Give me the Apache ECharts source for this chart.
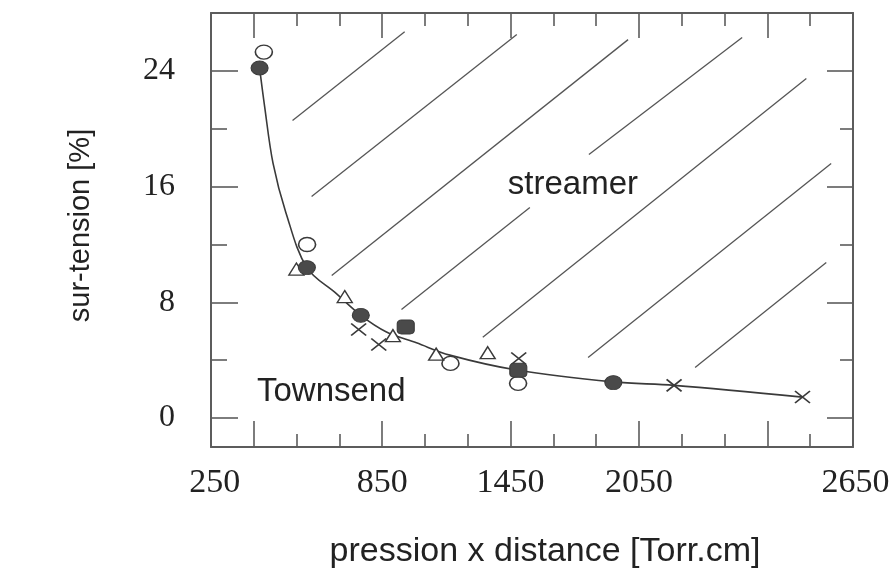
<!DOCTYPE html>
<html>
<head>
<meta charset="utf-8">
<script src="https://cdn.jsdelivr.net/npm/echarts@6/dist/echarts.min.js"></script>
<style>
html,body{margin:0;padding:0;background:#fff;}
#chart{width:894px;height:568px;}
</style>
</head>
<body>
<div id="chart"></div>
<script>
// ---- axis ranges and ticks ----
const xMin = 50, xMax = 3050;
const yMin = -2, yMax = 28;
const xMajor = [250, 850, 1450, 2050, 2650];
const xMinor = [450, 650, 1050, 1250, 1650, 1850, 2250, 2450, 2850];
const yMajor = [0, 8, 16, 24];
const yMinor = [4, 12, 20];

// ---- fitted curve ----
const curveX = [277, 300, 340, 400, 498, 636, 750, 870, 1010, 1166, 1478, 1930, 2214, 2814];
const curveY = [24.2, 21.6, 17.6, 14.2, 10.4, 8.6, 7.1, 5.95, 5.2, 4.35, 3.32, 2.5, 2.26, 1.45];

// ---- measured points ----
const filledCircleX = [277, 498, 750, 1930];
const filledCircleY = [24.2, 10.4, 7.1, 2.45];
const filledSquareX = [960, 1486];
const filledSquareY = [6.3, 3.3];
const openCircleX = [297, 499, 1169, 1485];
const openCircleY = [25.3, 12.0, 3.78, 2.4];
const triangleX = [449, 675, 900, 1102, 1343];
const triangleY = [10.3, 8.4, 5.7, 4.42, 4.52];
const crossX = [740, 834, 1488, 2214, 2814];
const crossY = [6.13, 5.09, 4.11, 2.26, 1.45];

// ---- hatching of the streamer region: [x1, y1, x2, y2] ----
const hatchX1 = [431, 520, 614, 940, 1816, 1320, 1812, 2312];
const hatchY1 = [20.57, 15.32, 9.86, 7.51, 18.22, 5.58, 4.19, 3.5];
const hatchX2 = [955, 1479, 1999, 1540, 2532, 2832, 2948, 2925];
const hatchY2 = [26.71, 26.51, 26.16, 14.56, 26.3, 23.47, 17.6, 10.76];

// ---- region labels ----
const regionNames = ['streamer', 'Townsend'];
const regionX = [1741, 612];
const regionY = [16.1, 1.78];

const zip = (xs, ys) => xs.map((x, i) => [x, ys[i]]);

const frameColor = '#5c5c5c';
const inkColor = '#3a3a3a';
const textColor = '#222';

function baseX(extra) {
  return Object.assign({
    type: 'value', min: xMin, max: xMax,
    splitLine: { show: false },
    axisLine: { show: false, onZero: false },
    axisLabel: { show: false }
  }, extra);
}
function baseY(extra) {
  return Object.assign({
    type: 'value', min: yMin, max: yMax,
    splitLine: { show: false },
    axisLine: { show: false, onZero: false },
    axisLabel: { show: false }
  }, extra);
}
const tickStyle = { color: frameColor, width: 1.6 };
const lineStyleFrame = { color: frameColor, width: 2 };

const serif = 'Liberation Serif';
const sans = 'Liberation Sans';

const xAxes = [
  baseX({
    position: 'bottom',
    axisLine: { show: true, onZero: false, lineStyle: lineStyleFrame },
    axisTick: { show: true, inside: true, length: 26, customValues: xMajor, lineStyle: tickStyle },
    axisLabel: {
      show: true, customValues: xMajor, margin: 19,
      fontFamily: serif, fontSize: 34, color: textColor,
      formatter: function (v) {
        if (v === 250) return '{l|' + v + '}';
        if (v === 2650) return '{r|' + v + '}';
        return '{n|' + v + '}';
      },
      rich: {
        l: { fontFamily: serif, fontSize: 34, color: textColor, padding: [0, 78, 0, 0] },
        r: { fontFamily: serif, fontSize: 34, color: textColor, padding: [0, 0, 0, 176] },
        n: { fontFamily: serif, fontSize: 34, color: textColor }
      }
    },
    name: 'pression x distance [Torr.cm]',
    nameLocation: 'middle', nameGap: 88,
    nameTextStyle: { fontFamily: sans, fontSize: 34, color: textColor, padding: [0, 0, 0, 26] }
  }),
  baseX({
    position: 'bottom',
    axisTick: { show: true, inside: true, length: 13, customValues: xMinor, lineStyle: tickStyle }
  }),
  baseX({
    position: 'top',
    axisLine: { show: true, onZero: false, lineStyle: lineStyleFrame },
    axisTick: { show: true, inside: true, length: 25, customValues: xMajor, lineStyle: tickStyle }
  }),
  baseX({
    position: 'top',
    axisTick: { show: true, inside: true, length: 13, customValues: xMinor, lineStyle: tickStyle }
  })
];

const yAxes = [
  baseY({
    position: 'left',
    axisLine: { show: true, onZero: false, lineStyle: lineStyleFrame },
    axisTick: { show: true, inside: true, length: 27, customValues: yMajor, lineStyle: tickStyle },
    axisLabel: {
      show: true, customValues: yMajor, margin: 36,
      fontFamily: serif, fontSize: 32, color: textColor
    },
    name: 'sur-tension [%]',
    nameLocation: 'middle', nameGap: 116,
    nameTextStyle: { fontFamily: sans, fontSize: 29, color: textColor, padding: [0, 0, 0, 9] }
  }),
  baseY({
    position: 'left',
    axisTick: { show: true, inside: true, length: 16, customValues: yMinor, lineStyle: tickStyle }
  }),
  baseY({
    position: 'right',
    axisLine: { show: true, onZero: false, lineStyle: lineStyleFrame },
    axisTick: { show: true, inside: true, length: 26, customValues: yMajor, lineStyle: tickStyle }
  }),
  baseY({
    position: 'right',
    axisTick: { show: true, inside: true, length: 13, customValues: yMinor, lineStyle: tickStyle }
  })
];

const hatchSeries = hatchX1.map((x1, i) => ({
  type: 'line',
  data: [[x1, hatchY1[i]], [hatchX2[i], hatchY2[i]]],
  showSymbol: false, symbol: 'none', silent: true,
  lineStyle: { color: '#555', width: 1.3 },
  z: 1
}));

const markerBase = { type: 'scatter', z: 5 };
const crossPath = 'path://M0,0L10,10M10,0L0,10';

const series = [].concat(hatchSeries, [
  {
    type: 'line', name: 'fit', data: zip(curveX, curveY), smooth: 0.35,
    showSymbol: false, symbol: 'none',
    lineStyle: { color: inkColor, width: 1.6 }, z: 2
  },
  Object.assign({}, markerBase, {
    name: 'open circle', data: zip(openCircleX, openCircleY),
    symbol: 'circle', symbolSize: [17, 14],
    itemStyle: { color: '#fff', borderColor: inkColor, borderWidth: 1.5, opacity: 1 }
  }),
  Object.assign({}, markerBase, {
    name: 'triangle', data: zip(triangleX, triangleY),
    symbol: 'triangle', symbolSize: [15, 12],
    itemStyle: { color: '#fff', borderColor: inkColor, borderWidth: 1.4, opacity: 1 }
  }),
  Object.assign({}, markerBase, {
    name: 'cross', data: zip(crossX, crossY),
    symbol: crossPath, symbolSize: [15, 12],
    itemStyle: { color: 'none', borderColor: inkColor, borderWidth: 1.6, opacity: 1 }
  }),
  Object.assign({}, markerBase, {
    name: 'filled square', data: zip(filledSquareX, filledSquareY),
    symbol: 'roundRect', symbolSize: [17, 14],
    itemStyle: { color: '#4a4a4a', borderColor: '#3a3a3a', borderWidth: 1, opacity: 1 }
  }),
  Object.assign({}, markerBase, {
    name: 'filled circle', data: zip(filledCircleX, filledCircleY),
    symbol: 'circle', symbolSize: [17, 14],
    itemStyle: { color: '#4a4a4a', borderColor: '#3a3a3a', borderWidth: 1, opacity: 1 }
  }),
  {
    type: 'scatter', name: 'regions', silent: true, z: 6,
    data: regionNames.map((n, i) => ({ name: n, value: [regionX[i], regionY[i]] })),
    symbol: 'circle', symbolSize: 2,
    itemStyle: { color: 'rgba(0,0,0,0)', borderWidth: 0 },
    label: {
      show: true, position: 'inside', formatter: p => p.name,
      fontFamily: sans, fontSize: 33, color: textColor, opacity: 1
    }
  }
]);

const chart = echarts.init(document.getElementById('chart'), null, { renderer: 'canvas' });
chart.setOption({
  animation: false,
  backgroundColor: '#fff',
  grid: { left: 211, right: 41, top: 13, bottom: 121, containLabel: false, outerBoundsMode: 'none' },
  xAxis: xAxes,
  yAxis: yAxes,
  series: series
});
</script>
</body>
</html>
